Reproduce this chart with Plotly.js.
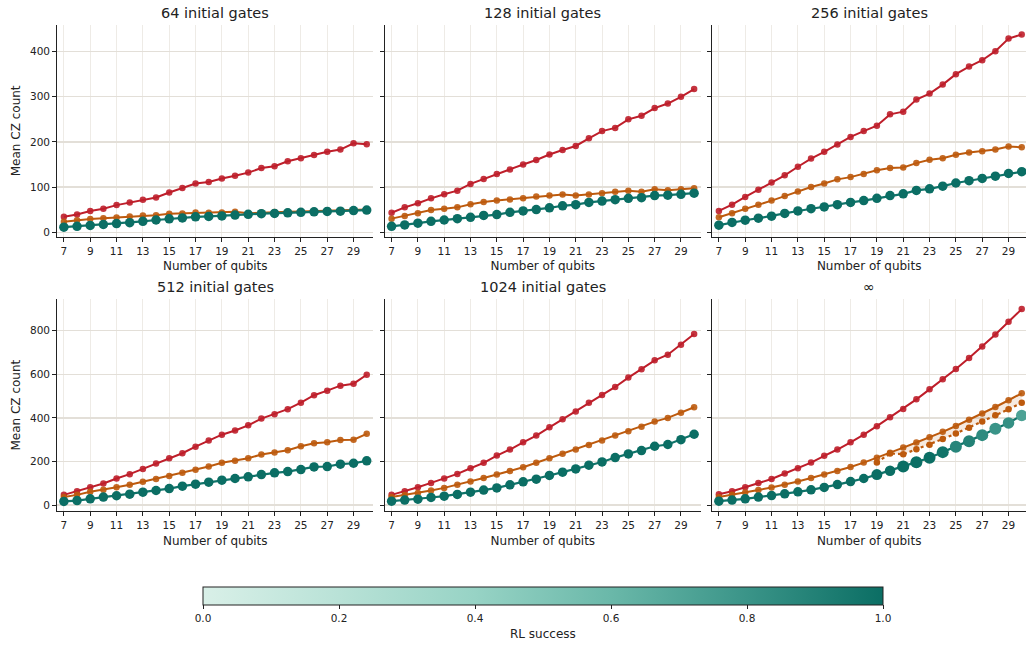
<!DOCTYPE html>
<html>
<head>
<meta charset="utf-8">
<script src="https://cdn.plot.ly/plotly-3.0.1.min.js"></script>
<style>html,body{margin:0;padding:0;background:#fff;}#chart{width:1026px;height:645px;}</style>
</head>
<body>
<div id="chart"></div>
<script>
// ---------------- data ----------------
const qubits = [7,8,9,10,11,12,13,14,15,16,17,18,19,20,21,22,23,24,25,26,27,28,29,30];
const panelTitles = ["64 initial gates","128 initial gates","256 initial gates","512 initial gates","1024 initial gates","\u221e"];

// red series
const red64   = [34,39,47,52,60,66,72,77,88,98,108,111,119,125,132,142,146,157,164,171,178,183,197,195];
const red128  = [43,55,64,75,84,92,107,118,129,139,150,160,172,182,191,208,224,231,250,258,275,285,300,317];
const red256  = [47,61,78,94,110,126,145,163,178,194,211,224,236,261,267,294,307,327,350,367,381,401,429,438];
const red512  = [47,64,82,99,122,142,166,191,215,238,268,296,323,342,366,397,417,440,470,504,525,548,557,598];
const red1024 = [47,64,82,102,122,143,169,194,227,255,288,319,357,394,429,469,505,542,585,623,664,690,736,785];
const redInf  = [50,64,82,101,120,145,169,195,226,255,288,323,362,403,441,485,531,577,624,675,728,783,841,899];

// orange series
const orange64   = [23,26.5,29,31,32.5,35,37,37.5,41,41.5,43.5,43,43.5,45,42,43.5,44.5,45,46,47,48,48,49,50];
const orange128  = [30,36,42,49,52,55,62,67,70,72.5,75,79,81,83.5,81,83.5,86.5,89.5,92,89.5,95,93,95,97.5];
const orange256  = [33,42,52,61,70,80,90,100,108,117,122,129,137,142,143.5,153,160.5,164,171.5,176.5,179.5,183,190,188];
const orange512  = [37,47,61,70,82,93,107,120,134,149,162,177,194,204,215,232,241,252,270,284,288,299,300,327];
const orange1024 = [37,46,55,67,79,93,108,124,140,156,174,194,215,236,255,276,296,319,339,360,383,400,424,449];
const orangeInf  = [37,47,58,69,81,93,108,124,140,157,175,195,217,240,264,287,311,336,363,391,420,450,481,513];
// dotted orange (∞ panel only)
const dottedQubits = [19,20,21,22,23,24,25,26,27,28,29,30];
const orangeInfDotted = [195,237,233,256,277,303,328,355,383,412,440,469];

// teal series (RL)
const teal64   = [11,13,15,17,19,21,24,27,29.5,31.5,34,35,36,38,39.5,41,41.5,43,44,45,46,46.5,48,49];
const teal128  = [13,16,20,24,27,30,33,37,39,44,47,50,54,58.5,61,66,69,72,75,76.5,81,82,84,86.5];
const teal256  = [15.5,21.5,26.5,31,35.5,41.5,47,52,56,61,66,70,75,81,85,92.5,96,102,109,114,119,124,130,134];
const teal512  = [17,21,29,37,43,50,59.5,67,76,87,96,105,114.5,122,130,140,148,154,163,175,177,188,192,203];
const teal1024 = [18,23,27,35,41,49,59.5,69,79,93,107,119,136,151,166,183,198,218,235,250,270,278,300,325];
const tealInf  = [18,23,29,37,44,52,61,70,81,94,108,122,140,158,177,197,217,243,268,293,321,350,377,411];

// RL success (colour of the teal markers)
const successFull = [1,1,1,1,1,1,1,1,1,1,1,1,1,1,1,1,1,1,1,1,1,1,1,1];
const successInf  = [1,1,1,1,1,1,1,1,1,1,1,1,1,1,1,1,1,0.97,0.88,0.9,0.85,0.8,0.82,0.72];

const xTicks = [7,9,11,13,15,17,19,21,23,25,27,29];
const yTicksTop = [0,100,200,300,400];
const yTicksBottom = [0,200,400,600,800];
const cbTicks = [0,0.2,0.4,0.6,0.8,1.0];
const cbLabel = 'RL success';

// ---------------- styling ----------------
const W = 1026, H = 645;
const RED = '#be1e2a', ORANGE = '#bd5a0d', TEAL = '#0f7369';
const tealScale = [[0,'#d9f0e8'],[0.2,'#b9e2d7'],[0.4,'#97d3c5'],[0.6,'#6ab8a9'],[0.8,'#3a9488'],[1,'#0b6e64']];
const infTealSize = [9.5,9.5,9.5,9.5,9.5,9.5,9.5,9.5,9.5,9.5,9.5,9.5,11,10.5,12,12,12,12,12,12,12,12,11.5,11.5];

const xpx = [[57.3,373.3],[385,700.7],[712.3,1026]];
const ypx = [[25,236.7],[299.3,511]];
const xRanges = [[6.5,30.5],[6.5,30.5],[6.5,6.5+(1026-712.3)/((373.3-57.3)/24)]];
const yRanges = [[-10,459],[-27,944]];

const reds = [red64,red128,red256,red512,red1024,redInf];
const oranges = [orange64,orange128,orange256,orange512,orange1024,orangeInf];
const teals = [teal64,teal128,teal256,teal512,teal1024,tealInf];
const successes = [successFull,successFull,successFull,successFull,successFull,successInf];

const traces = [];
const layout = {
  width: W, height: H,
  margin: {l:0,r:0,t:0,b:0},
  paper_bgcolor: '#fff', plot_bgcolor: '#fff',
  font: {family: 'DejaVu Sans', color: '#222', size: 10.5},
  showlegend: false,
  annotations: []
};

for (let p = 0; p < 6; p++) {
  const row = Math.floor(p/3), col = p % 3;
  const sfx = p === 0 ? '' : String(p+1);
  const xa = 'x' + sfx, ya = 'y' + sfx;
  const xdom = [xpx[col][0]/W, xpx[col][1]/W];
  const ydom = [1 - ypx[row][1]/H, 1 - ypx[row][0]/H];
  layout['xaxis' + sfx] = {
    domain: xdom, anchor: ya, range: xRanges[col],
    tickvals: xTicks, ticks: 'outside', ticklen: 4, tickcolor: '#222',
    showline: true, linecolor: '#222', linewidth: 1.2, zeroline: false,
    showgrid: true, gridcolor: '#eeebe6', gridwidth: 1,
    tickfont: {size: 10.5},
    title: {text: 'Number of qubits', font: {size: 12}, standoff: 6}
  };
  layout['yaxis' + sfx] = {
    domain: ydom, anchor: xa, range: yRanges[row],
    tickvals: row === 0 ? yTicksTop : yTicksBottom,
    ticks: 'outside', ticklen: 4, tickcolor: '#222',
    showticklabels: col === 0,
    showline: true, linecolor: '#222', linewidth: 1.2, zeroline: false,
    showgrid: true, gridcolor: '#e3dfd8', gridwidth: 1.3,
    tickfont: {size: 10.5},
    title: col === 0 ? {text: 'Mean CZ count', font: {size: 12}, standoff: 6} : {text: ''}
  };
  layout.annotations.push({
    text: panelTitles[p], xref: 'paper', yref: 'paper',
    x: (xpx[col][0] + Math.min(xpx[col][1], xpx[col][0]+316))/2/W,
    y: 1 - (row === 0 ? 13 : 287)/H,
    xanchor: 'center', yanchor: 'middle', showarrow: false,
    font: {size: 14.5, color: '#222'}
  });

  traces.push({
    x: qubits, y: reds[p], xaxis: xa, yaxis: ya, type: 'scatter', mode: 'lines+markers',
    line: {color: RED, width: 2}, marker: {color: RED, size: 6.5, opacity: 0.9}, hoverinfo: 'skip'
  });
  traces.push({
    x: qubits, y: oranges[p], xaxis: xa, yaxis: ya, type: 'scatter', mode: 'lines+markers',
    line: {color: ORANGE, width: 2}, marker: {color: ORANGE, size: 6.5, opacity: 0.9}, hoverinfo: 'skip'
  });
  if (p === 5) {
    // band between solid and dotted orange
    const solidPart = dottedQubits.map(q => orangeInf[qubits.indexOf(q)]);
    traces.push({
      x: dottedQubits, y: solidPart, xaxis: xa, yaxis: ya, type: 'scatter', mode: 'lines',
      line: {width: 0, color: 'rgba(0,0,0,0)'}, hoverinfo: 'skip'
    });
    traces.push({
      x: dottedQubits, y: orangeInfDotted, xaxis: xa, yaxis: ya, type: 'scatter', mode: 'lines+markers',
      fill: 'tonexty', fillcolor: 'rgba(189,90,13,0.13)',
      line: {color: ORANGE, width: 2.2, dash: 'dot'}, marker: {color: ORANGE, size: 6.5}, hoverinfo: 'skip'
    });
  }
  const tealMarker = {
    color: successes[p], colorscale: tealScale, cmin: 0, cmax: 1,
    size: p === 5 ? infTealSize : 9.5, opacity: 1, line: {width: 0},
    showscale: p === 5
  };
  if (p === 5) {
    tealMarker.colorbar = {
      orientation: 'h', x: (203+883)/2/W, xanchor: 'center',
      y: 1 - 587/H, yanchor: 'top', len: 680/W, lenmode: 'fraction',
      thickness: 18, thicknessmode: 'pixels', outlinewidth: 1, outlinecolor: '#222',
      xpad: 0, ypad: 0, tickvals: cbTicks, tickformat: '.1f',
      ticks: 'outside', ticklen: 4, tickcolor: '#222', tickfont: {size: 10.5},
      title: {text: ''}
    };
  }
  traces.push({
    x: qubits, y: teals[p], xaxis: xa, yaxis: ya, type: 'scatter', mode: 'lines+markers',
    line: {color: TEAL, width: 2.2}, marker: tealMarker, hoverinfo: 'skip'
  });
}

layout.annotations.push({
  text: cbLabel, xref: 'paper', yref: 'paper',
  x: (203+883)/2/W, y: 1 - 634/H, xanchor: 'center', yanchor: 'middle',
  showarrow: false, font: {size: 12, color: '#222'}
});

Plotly.newPlot('chart', traces, layout, {staticPlot: true, displayModeBar: false});
</script>
</body>
</html>
